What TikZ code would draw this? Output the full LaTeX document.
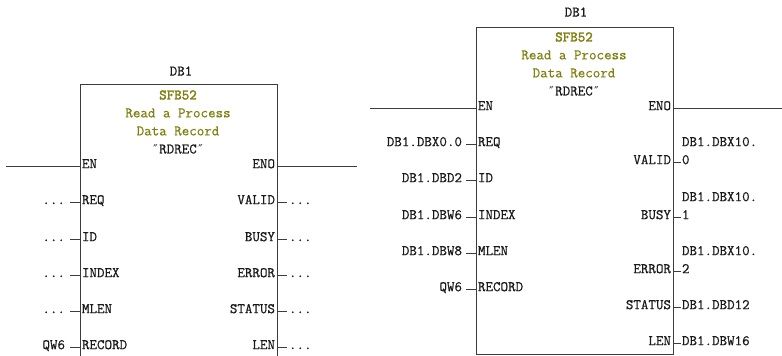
\documentclass[tikz,border=0pt]{standalone}
\usepackage{fontspec}
\setmainfont[FakeBold=0.6]{Latin Modern Mono}
\newfontfamily\ttbold[FakeBold=2.2]{Latin Modern Mono}
\newfontfamily\dqfont{DejaVu Sans Mono}
\newcommand{\dq}{{\dqfont\fontsize{12}{14}\selectfont ″}}
\definecolor{olivetxt}{RGB}{128,128,16}
\definecolor{wire}{RGB}{60,60,60}
\definecolor{ink}{RGB}{25,25,25}
\begin{document}
\begin{tikzpicture}[x=1pt,y=-1pt,
  every node/.style={inner sep=0pt, outer sep=0pt, font=\fontsize{14.6}{15}\selectfont, text=ink},
  wire/.style={draw=wire, line width=0.9pt},
  title/.style={text=olivetxt},
  ttl/.style={text=olivetxt, font=\fontsize{14.6}{15}\selectfont\ttbold}]
\useasboundingbox (0,0) rectangle (782,356);

% ---------------- left block ----------------
\coordinate (LboxTL) at (80,84);
\draw[wire] (80,357) -- (LboxTL) -- (277,84) -- (277,357);
\node (Ldb) at (181,71) {DB1};
\node[ttl] (Lsfb) at (178,95) {SFB52};
\node[title] (Lt1) at (178,113) {Read a Process};
\node[title] (Lt2) at (178,131) {Data Record};
\node (Lname) at (178,149) {\dq RDREC\dq};
\node[anchor=mid west] (Len) at (82,166) {EN};
\node[anchor=mid east] (Leno) at (275,166) {ENO};
\coordinate (LenIn) at (80,166);
\coordinate (LenFree) at (6,166);
\coordinate (LenoOut) at (277,166);
\coordinate (LenoFree) at (357,166);
\draw[wire] (LenFree) -- (LenIn);
\draw[wire] (LenoOut) -- (LenoFree);
\foreach \y/\pin/\lab [count=\i] in {202/REQ/{...},239/ID/{...},275/INDEX/{...},311/MLEN/{...},347/RECORD/QW6} {
  \node[anchor=mid west] (Lp\i) at (82,\y) {\pin};
  \node[anchor=mid east] (Ll\i) at (65,\y) {\lab};
  \coordinate (Le\i) at (80,\y);
  \coordinate (Ld\i) at (70,\y);
  \draw[wire] (Ld\i) -- (Le\i);
}
\foreach \y/\pin [count=\i] in {202/VALID,239/BUSY,275/ERROR,311/STATUS,347/LEN} {
  \node[anchor=mid east] (Lq\i) at (275,\y) {\pin};
  \coordinate (Lo\i) at (277,\y);
  \coordinate (Lf\i) at (287,\y);
  \node[anchor=mid west] (Lr\i) at (289,\y) {...};
  \draw[wire] (Lo\i) -- (Lf\i);
}

% ---------------- right block ----------------
\draw[wire] (476,27) rectangle (673,354);
\node (Rdb) at (576,12) {DB1};
\node[ttl] (Rsfb) at (574,37) {SFB52};
\node[title] (Rt1) at (574,55) {Read a Process};
\node[title] (Rt2) at (574,73) {Data Record};
\node (Rname) at (574,91) {\dq RDREC\dq};
\node[anchor=mid west] (Ren) at (478,108) {EN};
\node[anchor=mid east] (Reno) at (671,108) {ENO};
\coordinate (RenIn) at (476,108);
\coordinate (RenFree) at (370,108);
\coordinate (RenoOut) at (673,108);
\coordinate (RenoFree) at (782,108);
\draw[wire] (RenFree) -- (RenIn);
\draw[wire] (RenoOut) -- (RenoFree);
\foreach \y/\pin/\lab [count=\i] in {144/REQ/DB1.DBX0.0,180/ID/DB1.DBD2,217/INDEX/DB1.DBW6,253/MLEN/DB1.DBW8,289/RECORD/QW6} {
  \node[anchor=mid west] (Rp\i) at (478,\y) {\pin};
  \node[anchor=mid east] (Rl\i) at (462,\y) {\lab};
  \coordinate (Re\i) at (476,\y);
  \coordinate (Rd\i) at (466,\y);
  \draw[wire] (Rd\i) -- (Re\i);
}
\foreach \y/\pin/\top/\lab [count=\i] in {162/VALID/{DB1.DBX10.}/0,217/BUSY/{DB1.DBX10.}/1,271/ERROR/{DB1.DBX10.}/2,307/STATUS/{}/DB1.DBD12,343/LEN/{}/DB1.DBW16} {
  \node[anchor=mid east] (Rq\i) at (671,\y) {\pin};
  \coordinate (Ro\i) at (673,\y);
  \coordinate (Rf\i) at (681,\y);
  \node[anchor=mid west] (Rr\i) at (682,\y) {\lab};
  \node[anchor=mid west] (Rs\i) at (682,\y-18) {\top};
  \draw[wire] (Ro\i) -- (Rf\i);
}
\end{tikzpicture}
\end{document}
